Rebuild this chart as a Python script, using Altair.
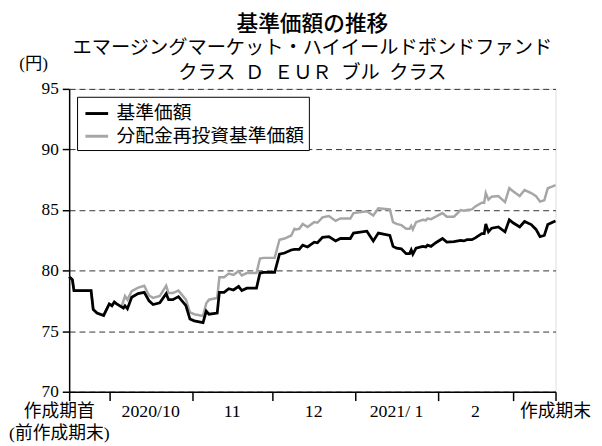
import altair as alt
import pandas as pd

# ---- data ----
# x: days since the start of the period (2020-09-16)
days = [0, 1.2, 1.8, 8.2, 9.0, 10.4, 12.9, 15.0, 16.0, 16.9, 17.8, 19.6, 20.3, 20.9, 21.8,
        23.4, 25.8, 28.1, 29.9, 31.4, 33.9, 36.3, 37.2, 38.8, 40.9, 43.7, 45.2, 46.8, 50.1,
        51.3, 52.3, 55.4, 56.2, 58.0, 59.7, 61.5, 63.4, 64.6, 66.5, 70.1, 71.4, 72.8, 76.9,
        78.7, 80.6, 83.1, 84.3, 84.9, 86.1, 87.4, 89.2, 91.7, 92.9, 94.8, 97.2, 99.7, 101.5,
        105.2, 106.4, 111.4, 113.8, 115.7, 120.0, 121.2, 122.5, 124.3, 126.1, 127.4, 128.0,
        128.6, 129.8, 132.3, 133.5, 134.1, 135.4, 137.2, 139.7, 141.3, 144.0, 146.5, 147.7,
        148.9, 150.7, 152.0, 154.4, 155.3, 155.9, 156.9, 158.1, 160.6, 163.1, 164.7, 166.1,
        168.6, 170.4, 172.9, 174.7, 176.2, 177.8, 179.1, 180.9, 182.0]

nav = [79.5, 79.25, 78.35, 78.35, 76.8, 76.5, 76.3, 77.25, 77.1, 77.4, 77.25, 77.0, 76.9, 77.1, 76.85,
       77.8, 78.1, 78.2, 77.5, 77.2, 77.35, 78.1, 77.6, 77.6, 77.85, 77.1, 76.0, 75.85, 75.7,
       76.65, 76.4, 76.5, 78.2, 78.2, 78.5, 78.4, 78.7, 78.35, 78.55, 78.55, 79.8, 79.85, 79.85,
       81.35, 81.45, 81.7, 81.75, 81.75, 81.75, 82.1, 81.95, 82.35, 82.3, 82.75, 82.8, 82.45, 82.65,
       82.65, 83.1, 83.25, 82.45, 83.1, 82.9, 82.0, 81.85, 81.8, 81.4, 81.4, 81.7,
       81.35, 81.85, 82.0, 81.95, 82.1, 82.0, 82.3, 82.65, 82.35, 82.4, 82.5, 82.45,
       82.55, 82.55, 82.7, 83.05, 83.05, 83.85, 83.2, 83.5, 83.6, 83.2, 84.2, 83.95,
       83.6, 84.05, 83.8, 83.4, 82.8, 82.9, 83.8, 84.0, 84.1]

nav_reinvested = [79.5, 79.25, 78.35, 78.35, 76.8, 76.5, 76.3, 77.25, 77.1, 77.4, 77.25, 77.0, 77.5, 77.9, 77.6,
                  78.3, 78.6, 78.75, 77.95, 77.75, 77.9, 78.75, 78.15, 78.15, 78.35, 77.6, 76.55, 76.4, 76.25,
                  77.3, 77.6, 77.75, 79.45, 79.45, 79.75, 79.65, 79.95, 79.6, 79.8, 79.8, 81.0, 81.05, 81.05,
                  82.55, 82.65, 82.9, 83.45, 83.4, 83.45, 83.85, 83.6, 84.0, 83.95, 84.4, 84.5, 84.1, 84.3,
                  84.3, 84.75, 84.9, 84.55, 85.15, 85.05, 84.0, 83.85, 83.75, 83.45, 83.45, 83.7,
                  83.4, 84.0, 84.2, 84.15, 84.3, 84.25, 84.45, 84.75, 84.45, 84.45, 85.0, 84.95,
                  85.0, 85.05, 85.3, 85.6, 85.6, 86.4, 85.85, 86.1, 86.15, 85.65, 86.8, 86.55,
                  86.15, 86.65, 86.4, 86.15, 85.7, 85.8, 86.8, 86.95, 87.05]

series_names = ["基準価額", "分配金再投資基準価額"]
period_start = "2020-09-16"
period_end = "2021-03-17"
month_starts = ["2020-10-01", "2020-11-01", "2020-12-01", "2021-01-01", "2021-02-01", "2021-03-01"]
month_labels = ["2020/10", "11", "12", "2021/ 1", "2"]
start_label = "作成期首"
start_label_2 = "(前作成期末)"
end_label = "作成期末"
y_ticks = [70, 75, 80, 85, 90, 95]
title_lines = ["基準価額の推移",
               "エマージングマーケット・ハイイールドボンドファンド",
               "クラス\u2002Ｄ\u2002ＥＵＲ\u2002ブル\u2002クラス"]
unit_label = "(円)"

# ---- derived tables ----
t0 = pd.Timestamp(period_start)
end_day = (pd.Timestamp(period_end) - t0).days
tick_days = [0] + [(pd.Timestamp(m) - t0).days for m in month_starts] + [end_day]

df = pd.concat([
    pd.DataFrame({"day": days, "value": nav, "series": series_names[0]}),
    pd.DataFrame({"day": days, "value": nav_reinvested, "series": series_names[1]}),
])

mid_days = [(tick_days[i] + tick_days[i + 1]) / 2 for i in range(1, len(tick_days) - 2)]
xlab_mid = pd.DataFrame({"day": mid_days + [end_day], "label": month_labels + [end_label]})
xlab_start = pd.DataFrame({"day": [0], "label": [start_label]})
xlab_start2 = pd.DataFrame({"day": [0], "label": [start_label_2]})

W, H = 493, 307
SERIF = "'Liberation Serif', 'DejaVu Serif', 'Noto Sans CJK JP'"
SANS = "'Noto Sans CJK JP', sans-serif"

xscale = alt.Scale(domain=[0, end_day], nice=False, zero=False)
yscale = alt.Scale(domain=[70, 95], nice=False, zero=False)
cscale = alt.Scale(domain=series_names, range=["#000000", "#a6a6a6"])

x_enc = alt.X("day:Q", scale=xscale,
              axis=alt.Axis(values=tick_days, labels=False, tickSize=9, grid=False, title=None,
                            domainColor="black", tickColor="black", domainWidth=1.5, tickWidth=1.5))
y_enc = alt.Y("value:Q", scale=yscale,
              axis=alt.Axis(values=y_ticks, tickSize=7, title=None, labelFont=SERIF, labelFontSize=17.5,
                            labelColor="black", labelPadding=4, grid=True, gridDash=[6, 4],
                            gridColor="#333333", gridWidth=1, domainColor="black", tickColor="black",
                            domainWidth=1.5, tickWidth=1.5))

legend = alt.Legend(title=None, orient="none", legendX=8, legendY=8, direction="vertical",
                    strokeColor="black", fillColor="white", padding=4, symbolOffset=3,
                    symbolType="stroke", symbolSize=529, symbolStrokeWidth=3, labelFontSize=19,
                    labelFont=SANS, labelColor="black", labelLimit=400, rowPadding=0, labelOffset=7)

base = alt.Chart(df)
gray_line = base.transform_filter(alt.datum.series == series_names[1]).mark_line(strokeWidth=2.5).encode(
    x=x_enc, y=y_enc, color=alt.Color("series:N", scale=cscale, legend=legend))
black_line = base.transform_filter(alt.datum.series == series_names[0]).mark_line(strokeWidth=2.8).encode(
    x="day:Q", y="value:Q", color=alt.Color("series:N", scale=cscale, legend=legend))

xl_mid = alt.Chart(xlab_mid).mark_text(font=SERIF, fontSize=18, baseline="middle", color="black").encode(
    x="day:Q", y=alt.value(H + 21), text="label:N")
xl_start = alt.Chart(xlab_start).mark_text(font=SERIF, fontSize=18, baseline="middle", color="black",
                                            dx=-10).encode(
    x="day:Q", y=alt.value(H + 21), text="label:N")
xl_start2 = alt.Chart(xlab_start2).mark_text(font=SERIF, fontSize=18, baseline="middle", color="black",
                                              dx=-10).encode(
    x="day:Q", y=alt.value(H + 43), text="label:N")

t1 = alt.Chart(pd.DataFrame({"t": [title_lines[0]]})).mark_text(
    font=SANS, fontSize=22, fontWeight=500, baseline="middle", color="black").encode(
    x=alt.value(W / 2), y=alt.value(-66), text="t:N")
t2 = alt.Chart(pd.DataFrame({"t": [title_lines[1]]})).mark_text(
    font=SANS, fontSize=19.5, baseline="middle", color="black").encode(
    x=alt.value(W / 2), y=alt.value(-41), text="t:N")
t3 = alt.Chart(pd.DataFrame({"t": [title_lines[2]]})).mark_text(
    font=SANS, fontSize=19.5, baseline="middle", color="black").encode(
    x=alt.value(W / 2), y=alt.value(-16), text="t:N")
unit = alt.Chart(pd.DataFrame({"t": [unit_label]})).mark_text(
    font=SERIF, fontSize=17.5, baseline="middle", align="center", color="black").encode(
    x=alt.value(-36), y=alt.value(-25), text="t:N")

chart = alt.layer(gray_line, black_line, xl_mid, xl_start, xl_start2, t1, t2, t3, unit).properties(
    width=W, height=H,
    autosize=alt.AutoSizeParams(type="none"),
    padding={"left": 62, "top": 79, "right": 39, "bottom": 52},
).configure_view(stroke="black", strokeWidth=1.5).configure(background="white")

chart.save("out.html", embed_options={"renderer": "svg", "actions": False})
